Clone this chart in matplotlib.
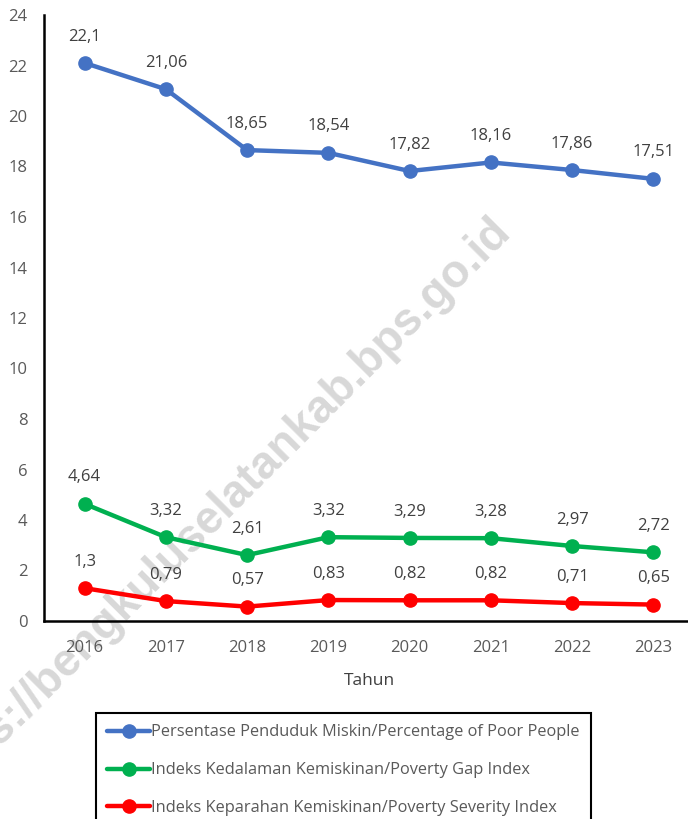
import matplotlib
matplotlib.use("Agg")
import matplotlib.pyplot as plt

# data
years = ["2016", "2017", "2018", "2019", "2020", "2021", "2022", "2023"]
poor_pct = [22.1, 21.06, 18.65, 18.54, 17.82, 18.16, 17.86, 17.51]
gap_idx = [4.64, 3.32, 2.61, 3.32, 3.29, 3.28, 2.97, 2.72]
severity_idx = [1.3, 0.79, 0.57, 0.83, 0.82, 0.82, 0.71, 0.65]
labels = [
    "Persentase Penduduk Miskin/Percentage of Poor People",
    "Indeks Kedalaman Kemiskinan/Poverty Gap Index",
    "Indeks Keparahan Kemiskinan/Poverty Severity Index",
]
colors = ["#4472C4", "#00B050", "#FF0000"]

plt.rcParams['font.family'] = ['Open Sans', 'DejaVu Sans']

W, H = 688, 819
fig = plt.figure(figsize=(W / 100, H / 100), dpi=100)
ax = fig.add_axes([44 / W, 1 - 621 / H, 650 / W, 606 / H])
ax.patch.set_alpha(0)

x = list(range(len(years)))

def fmt(v):
    s = f"{v:.2f}".rstrip("0").rstrip(".")
    return s.replace(".", ",")

lines = []
for vals, col, lab in zip([poor_pct, gap_idx, severity_idx], colors, labels):
    ln, = ax.plot(x, vals, color=col, lw=3.2, marker="o", ms=9.5, label=lab,
                  solid_capstyle="round")
    lines.append(ln)
    for xi, v in zip(x, vals):
        ax.annotate(fmt(v), (xi, v), xytext=(0, 19), textcoords="offset points",
                    ha="center", va="center", fontsize=12, color="#404040")

ax.set_xlim(-0.5, 7.5)
ax.set_ylim(0, 24)
ax.set_yticks(range(0, 25, 2))
ax.set_xticks(x)
ax.set_xticklabels(years)
ax.tick_params(axis="both", length=0, labelsize=12, labelcolor="#595959")
ax.tick_params(axis="y", pad=12)
ax.tick_params(axis="x", pad=14)
for s in ["top", "right"]:
    ax.spines[s].set_visible(False)
for s in ["left", "bottom"]:
    ax.spines[s].set_linewidth(1.8)
    ax.spines[s].set_color("black")
ax.set_xlabel("Tahun", fontsize=12.5, color="#404040", labelpad=12)

leg = fig.legend(handles=lines, loc="upper left",
                 bbox_to_anchor=(96 / W, 1 - 713 / H), fontsize=11.8,
                 handlelength=2.6, handletextpad=0.05, labelspacing=1.33,
                 borderpad=0.7, borderaxespad=0, fancybox=False,
                 framealpha=1, edgecolor="black", labelcolor="#595959")
leg.get_frame().set_linewidth(1.5)

# watermark (behind the chart), partly off the left edge like the original
fig.text(512 / W, 1 - 232 / H, "https://bengkuluselatankab.bps.go.id",
         rotation=45, rotation_mode="anchor", ha="right", va="baseline",
         fontsize=33, fontweight="bold", family="Liberation Sans",
         color="#d8d8d8", zorder=-1)

fig.savefig("out.png", dpi=100)
